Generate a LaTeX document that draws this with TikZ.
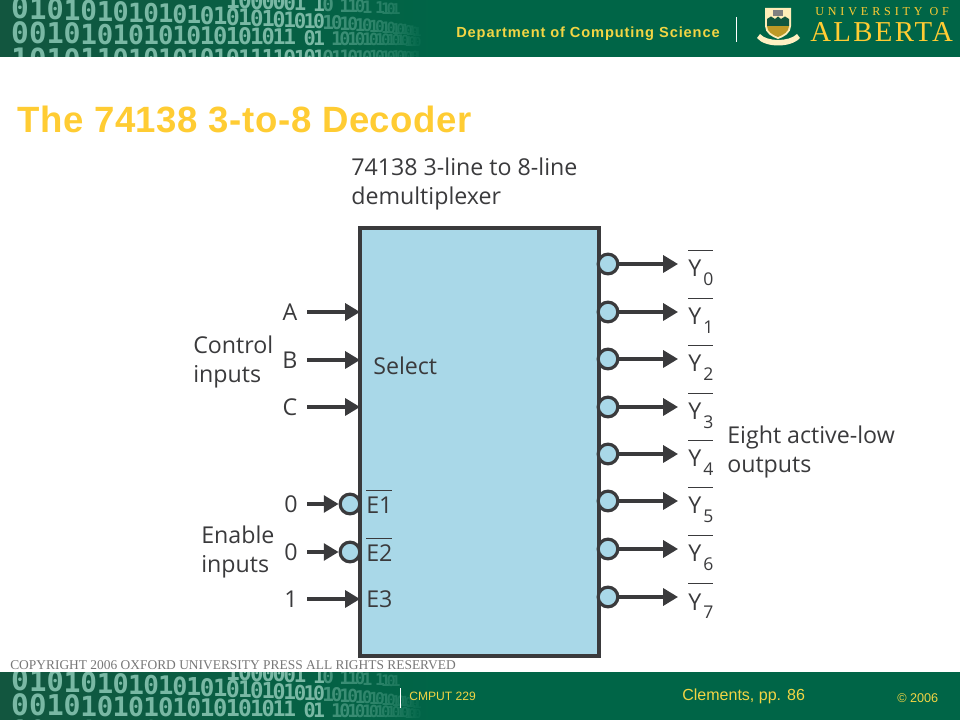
\documentclass[tikz,border=0pt]{standalone}
\usepackage{fontspec}
\setmainfont{Open Sans}
\newfontfamily\slidefont{Liberation Sans}
\newfontfamily\titlefont[LetterSpace=1.6]{Liberation Sans}
\newfontfamily\deptfont[LetterSpace=6]{Liberation Sans}
\newfontfamily\bitfont{DejaVu Sans Mono}
\newfontfamily\crestfont[LetterSpace=8]{Liberation Serif}
\newfontfamily\smallcrestfont[LetterSpace=32]{Liberation Serif}
\newfontfamily\noticefont{Liberation Serif}
\usepackage{xcolor}
\usetikzlibrary{arrows.meta,positioning}
\definecolor{uagreen}{HTML}{006547}
\definecolor{uadark}{HTML}{12563F}
\definecolor{uagold}{HTML}{FFCC33}
\definecolor{uayellow}{HTML}{F2D544}
\definecolor{bitteal}{HTML}{79B8A4}
\definecolor{boxblue}{HTML}{A9D8E8}
\definecolor{inkgray}{HTML}{3A3A3C}
\definecolor{noticegray}{HTML}{777777}
\tikzset{
  bitdigit/.style={inner sep=0pt,font=\bitfont\bfseries\fontsize{21}{21}\selectfont},
  diagramtext/.style={inkgray,inner sep=0pt,anchor=west,align=left,font=\fontsize{16.5}{20.6}\selectfont},
  barlabel/.style={inkgray,inner sep=0pt,anchor=base west,font=\fontsize{16.5}{20.6}\selectfont},
  portarrow/.style={draw=inkgray,line width=2.3pt,-{Triangle[length=10.5pt,width=12pt]}},
  bubble/.style={circle,draw=inkgray,line width=2.3pt,fill=boxblue,minimum size=14pt,inner sep=0pt},
  bannertext/.style={inner sep=0pt,anchor=west,font=\slidefont}
}
% one row of binary digits that shrink and fade to the right
\newcommand{\bitrow}[5]{%
  \foreach \bitval [count=\i from #4] in {#5} {
    \pgfmathsetmacro{\bitx}{20+18*\i-0.2*\i*\i}
    \pgfmathsetmacro{\bity}{#2+(#3-#2)*\i/40}
    \pgfmathsetmacro{\bitscale}{1-0.015*\i}
    \pgfmathsetmacro{\bitfade}{\i<23 ? 100 : max(0,55-3*(\i-23))}
    \node[bitdigit,scale=\bitscale,text=bitteal!\bitfade!uagreen] (bit#1-\i) at (\bitx,\bity) {\bitval};
  }
}
\newcommand{\bitstrip}[2]{%
  \begin{scope}[shift={(0,#1)}]
    \clip (0,0) rectangle (450,#2);
    \bitrow{#1a}{-7}{13}{14}{1,0,0,0,0,0,1,{},1,0,{},1,1,0,1,{},1,1,0,1}
    \bitrow{#1b}{8}{33}{0}{0,1,0,1,0,1,0,1,0,1,0,1,0,1,0,1,0,1,0,1,0,1,0,1,0,1,0,1,0,1,0,1,0,1,0,1,0,1,0,1}
    \bitrow{#1c}{33}{42}{0}{0,0,1,0,1,0,1,0,1,0,1,0,1,0,1,0,1,0,1,1,{},0,1,{},1,0,1,0,1,0,1,0,1,0,1,0,1,0,1,0}
    \bitrow{#1d}{59}{56}{0}{1,0,1,0,1,1,0,1,0,1,0,1,0,1,0,1,1,1,1,0,1,0,1,0,1,1,0,1,0,1,0,1,0,1,0,1,0,1,0,1}
  \end{scope}
}
\begin{document}
\begin{tikzpicture}[x=0.025cm,y=-0.025cm]
  \useasboundingbox (0,0) rectangle (960,720);
  % banner and footer
  \fill[uagreen] (0,0) rectangle (960,57);
  \shade[left color=uadark,right color=uagreen] (0,0) rectangle (440,57);
  \bitstrip{0}{57}
  \fill[uagreen] (0,672) rectangle (960,720);
  \shade[left color=uadark,right color=uagreen] (0,672) rectangle (440,720);
  \bitstrip{672}{48}
  \node[bannertext,text=uayellow,font=\deptfont\bfseries\fontsize{10.4}{12}\selectfont] (dept) at (456,33.5) {Department of Computing Science};
  \draw[white,line width=0.7pt] (736,17) -- (736,42);
  \node[bannertext,text=uagold,font=\smallcrestfont\fontsize{8.6}{10}\selectfont] (univ) at (815,12) {UNIVERSITY OF};
  \node[bannertext,text=uagold,font=\crestfont\fontsize{20.5}{24}\selectfont] (alberta) at (810,32) {ALBERTA};
  % crest
  \fill[uagold!30!white] (757,38) .. controls (765,48) and (791,48) .. (800,38) -- (797,34) .. controls (789,42) and (767,42) .. (760,34) -- cycle;
  \fill[uagold!35!white] (765,8) -- (791,8) -- (791,26) .. controls (791,33) and (784,37) .. (778,39) .. controls (772,37) and (765,33) .. (765,26) -- cycle;
  \fill[uagold!75!black] (767,26) -- (789,26) .. controls (789,32) and (783,35) .. (778,37) .. controls (773,35) and (767,32) .. (767,26) -- cycle;
  \fill[uadark] (767,19) -- (771,16.5) -- (775,19) -- (778,16.5) -- (781,19) -- (785,16.5) -- (789,19) -- (789,26) -- (767,26) -- cycle;
  \fill[gray] (773,10) rectangle (783,16);
  % footer text
  \draw[white,line width=0.7pt] (400,688) -- (400,708);
  \node[bannertext,text=uayellow,font=\slidefont\fontsize{8.6}{10}\selectfont] (course) at (409,696) {CMPUT 229};
  \node[bannertext,text=uayellow,font=\slidefont\fontsize{11.4}{13}\selectfont] (pages) at (682,696.5) {Clements, pp. 86};
  \node[bannertext,text=uayellow,font=\slidefont\fontsize{9}{11}\selectfont] (year) at (897,698) {© 2006};
  \node[bannertext,text=noticegray,font=\noticefont\fontsize{9.55}{11}\selectfont] (notice) at (10,665) {COPYRIGHT 2006 OXFORD UNIVERSITY PRESS ALL RIGHTS RESERVED};
  \node[bannertext,text=uagold,font=\titlefont\bfseries\fontsize{26}{30}\selectfont] (title) at (17,119) {The 74138 3-to-8 Decoder};
  % decoder block
  \draw[draw=inkgray,line width=2.3pt,fill=boxblue] (360,228) rectangle (599,656);
  \coordinate (boxW) at (360,228);
  \coordinate (boxE) at (599,228);
  \node[diagramtext] (heading) at (351,183.5) {74138 3-line to 8-line\\demultiplexer};
  \node[diagramtext] (select) at (373,365.5) {Select};
  \node[diagramtext] (control) at (193,362) {Control\\inputs};
  \node[diagramtext] (enable) at (201,552) {Enable\\inputs};
  \node[diagramtext] (eight) at (727,452) {Eight active-low\\outputs};
  % select inputs
  \foreach \pin/\ypos in {A/312,B/360,C/407} {
    \node[diagramtext,anchor=center] (pin\pin) at (290,\ypos) {\pin};
    \coordinate (start\pin) at (307,\ypos);
    \draw[portarrow] (start\pin) -- (start\pin -| boxW);
  }
  % enable inputs
  \foreach \lvl/\ypos/\tag in {0/504/1,0/552/2} {
    \node[diagramtext,anchor=center] (lvl\tag) at (291,\ypos) {\lvl};
    \node[bubble] (neg\tag) at (350,\ypos) {};
    \coordinate (start\tag) at (307,\ypos);
    \draw[portarrow] (start\tag) -- (neg\tag);
    \node[barlabel] (en\tag) at (366,\ypos+10) {$\overline{\mbox{\rule{0pt}{0.95em}E\tag}}$};
  }
  \node[diagramtext,anchor=center] (lvl3) at (291,599) {1};
  \coordinate (start3) at (307,599);
  \draw[portarrow] (start3) -- (start3 -| boxW);
  \node[diagramtext] (en3) at (366,599) {E3};
  % outputs
  \foreach \ypos [count=\n from 0] in {264,312,359,407,454,501,549,597} {
    \node[bubble] (out\n) at (608,\ypos) {};
    \coordinate (tip\n) at (678,\ypos);
    \draw[portarrow] (out\n) -- (tip\n);
    \node[barlabel] (y\n) at (688,\ypos+13) {$\overline{\mbox{\rule{0pt}{1.05em}Y\kern1.5pt\raisebox{-5.7pt}{\fontsize{12.5}{12.5}\selectfont\n}}}$};
  }
\end{tikzpicture}
\end{document}
